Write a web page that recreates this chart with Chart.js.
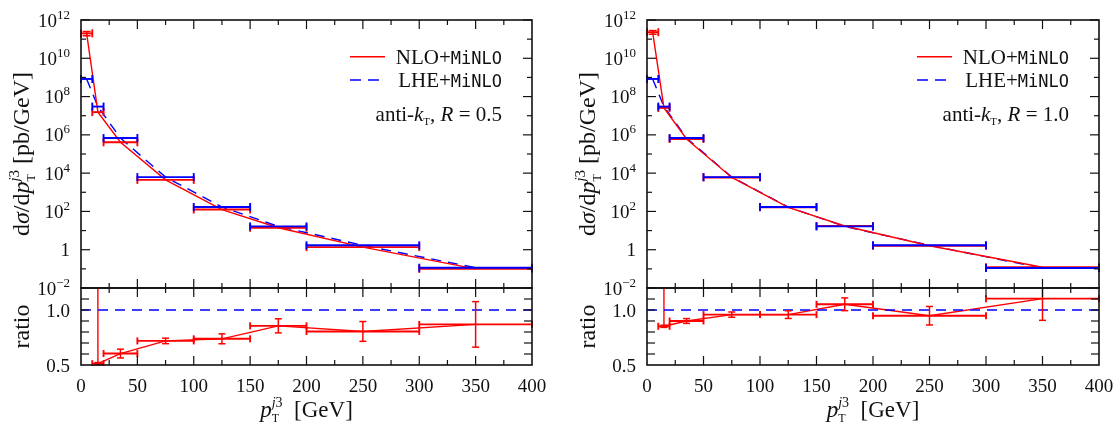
<!DOCTYPE html>
<html>
<head>
<meta charset="utf-8">
<script src="https://cdn.jsdelivr.net/npm/chart.js@4.4.0/dist/chart.umd.min.js"></script>
<style>
  html, body { margin: 0; padding: 0; background: #fff; }
  #wrap { position: relative; width: 1115px; height: 423px; overflow: hidden; background: #fff; }
  #wrap canvas { position: absolute; left: 0; top: 0; }
</style>
</head>
<body>
<div id="wrap">
  <canvas id="mainL" width="1115" height="423"></canvas>
  <canvas id="ratioL" width="1115" height="423"></canvas>
  <canvas id="mainR" width="1115" height="423"></canvas>
  <canvas id="ratioR" width="1115" height="423"></canvas>
</div>
<script>
// pT(j3) bins [GeV]
const binLo  = [0, 10, 20, 50, 100, 150, 200, 300];
const binHi  = [10, 20, 50, 100, 150, 200, 300, 400];
const binMid = [5, 15, 35, 75, 125, 175, 250, 350];

// anti-kT, R = 0.5  : dsigma/dpT [pb/GeV]
const lheR05    = [8.3e8, 3.0e7, 6.8e5, 6.2e3, 170, 16.5, 1.7, 0.115];
const nloR05    = [2.0e11, 1.54e7, 4.1e5, 4.46e3, 125, 14.1, 1.37, 0.10];
const nloErrR05 = [5.0e10, 0, 0, 0, 0, 0, 0, 0];
const ratioR05    = [241, 0.512, 0.604, 0.719, 0.738, 0.856, 0.805, 0.869];
const ratioErrR05 = [0, 0.01, 0.04, 0.025, 0.045, 0.064, 0.09, 0.207];

// anti-kT, R = 1.0
const lheR10    = [8.3e8, 3.0e7, 6.8e5, 6.2e3, 170, 16.5, 1.7, 0.11];
const nloR10    = [2.3e11, 2.56e7, 6.1e5, 5.94e3, 163, 17.4, 1.61, 0.121];
const nloErrR10 = [5.0e10, 0, 0, 0, 0, 0, 0, 0];
const ratioR10    = [277, 0.852, 0.90, 0.958, 0.958, 1.052, 0.948, 1.103];
const ratioErrR10 = [0, 0.01, 0.022, 0.024, 0.035, 0.058, 0.084, 0.197];

// axis tick labels
const xTickLabels   = ['0', '50', '100', '150', '200', '250', '300', '350', '400'];
const mainExponents = [12, 10, 8, 6, 4, 2, 0, -2];
const ratioTickLabels = ['0.5', '1.0'];

const RED = '#ff0000', BLUE = '#0000ff', INK = '#111';
const SERIF = '"Liberation Serif", "DejaVu Serif", serif';
const MONO = '"DejaVu Sans Mono", "Liberation Mono", monospace';
const f = (size, italic) => (italic ? 'italic ' : '') + size + 'px ' + SERIF;

// --- rich text: a sequence of runs; a run may stack a subscript and a superscript
function seqWidth(ctx, seq) {
  let w = 0;
  for (const it of seq) {
    if (it.stack) w += Math.max(...it.stack.map(s => seqWidth(ctx, s)));
    else { ctx.font = it.f; w += ctx.measureText(it.t).width; }
  }
  return w;
}
function drawSeq(ctx, seq, x, y) {
  for (const it of seq) {
    if (it.stack) {
      const w = Math.max(...it.stack.map(s => seqWidth(ctx, s)));
      it.stack.forEach(s => drawSeq(ctx, s, x, y));
      x += w;
    } else {
      ctx.font = it.f;
      ctx.fillText(it.t, x, y + (it.dy || 0));
      x += ctx.measureText(it.t).width;
    }
  }
}
const ptSub = (sz) => ({ stack: [
  [{ t: 'T', f: f(Math.round(sz * 0.5)), dy: Math.round(sz * 0.23) }],
  [{ t: 'j', f: f(Math.round(sz * 0.62), true), dy: -Math.round(sz * 0.42) },
   { t: '3', f: f(Math.round(sz * 0.62)), dy: -Math.round(sz * 0.42) }]
]});
const xTitle = [{ t: 'p', f: f(23, true) }, ptSub(23), { t: '  [GeV]', f: f(23) }];
const yTitle = [{ t: 'd', f: f(24) }, { t: 'σ', f: f(24, true) }, { t: '/d', f: f(24) },
                { t: 'p', f: f(24, true) }, ptSub(24), { t: ' [pb/GeV]', f: f(24) }];
const legNLO = [{ t: 'NLO+', f: f(21) }, { t: 'MiNLO', f: '17px ' + MONO }];
const legLHE = [{ t: 'LHE+', f: f(21) }, { t: 'MiNLO', f: '17px ' + MONO }];
const jetLabel = (r) => [{ t: 'anti-', f: f(21) }, { t: 'k', f: f(21, true) }, { t: 'T', f: f(11), dy: 4 },
                         { t: ', ', f: f(21) }, { t: 'R', f: f(21, true) }, { t: ' = ' + r, f: f(21) }];

function line(ctx, x0, y0, x1, y1) { ctx.beginPath(); ctx.moveTo(x0, y0); ctx.lineTo(x1, y1); ctx.stroke(); }

// frame with inward ticks on all four sides
function frame(chart, yTicks) {
  const { ctx, chartArea: a, scales: { x, y } } = chart;
  ctx.save();
  ctx.strokeStyle = INK; ctx.lineWidth = 1.2;
  for (let v = 0; v <= 400; v += 25) {
    const px = x.getPixelForValue(v), L = v % 50 === 0 ? 9 : 5;
    if (v > 0 && v < 400) { line(ctx, px, a.bottom, px, a.bottom - L); line(ctx, px, a.top, px, a.top + L); }
  }
  for (const t of yTicks) {
    const py = y.getPixelForValue(t.v);
    line(ctx, a.left, py, a.left + t.len, py);
    line(ctx, a.right, py, a.right - t.len, py);
  }
  ctx.lineWidth = 1.6;
  ctx.strokeRect(a.left, a.top, a.right - a.left, a.bottom - a.top);
  ctx.restore();
}

// histogram bins with end caps, plus vertical error bars
function bins(chart, vals, errs, color, cap) {
  const { ctx, chartArea: a, scales: { x, y } } = chart;
  ctx.save();
  ctx.beginPath(); ctx.rect(a.left - 2, a.top - 1, a.right - a.left + 4, a.bottom - a.top + 2); ctx.clip();
  ctx.strokeStyle = color; ctx.lineWidth = 1.9;
  vals.forEach((v, i) => {
    const py = y.getPixelForValue(v);
    const x0 = x.getPixelForValue(binLo[i]), x1 = x.getPixelForValue(binHi[i]);
    line(ctx, x0, py, x1, py);
    line(ctx, x0, py - cap, x0, py + cap);
    line(ctx, x1, py - cap, x1, py + cap);
    if (errs && errs[i]) {
      const xm = x.getPixelForValue(binMid[i]);
      const ylo = y.getPixelForValue(v - errs[i]), yhi = y.getPixelForValue(v + errs[i]);
      ctx.lineWidth = 1.5;
      line(ctx, xm, ylo, xm, yhi);
      line(ctx, xm - cap, ylo, xm + cap, ylo);
      line(ctx, xm - cap, yhi, xm + cap, yhi);
      ctx.lineWidth = 1.9;
    }
  });
  ctx.restore();
}

function makeChart(id, area, yCfg, datasets, draw) {
  return new Chart(document.getElementById(id), {
    type: 'line',
    data: { datasets },
    options: {
      responsive: false, animation: false, events: [],
      layout: { autoPadding: false, padding: { left: area.l, top: area.t, right: 1115 - area.r, bottom: 423 - area.b } },
      plugins: { legend: { display: false }, tooltip: { enabled: false } },
      elements: { point: { radius: 0 }, line: { tension: 0 } },
      scales: {
        x: { type: 'linear', min: 0, max: 400, display: false },
        y: Object.assign({ display: false }, yCfg)
      }
    },
    plugins: [{ id: 'deco', afterDatasetsDraw: c => draw(c) }]
  });
}

const pts = (vals) => binMid.map((m, i) => ({ x: m, y: vals[i] }));

function panel(suffix, left, right, nlo, nloErr, lhe, ratio, ratioErr, rLabel) {
  const mainArea  = { l: left, r: right, t: 20, b: 288 };
  const ratioArea = { l: left, r: right, t: 288, b: 365 };

  makeChart('main' + suffix, mainArea, { type: 'logarithmic', min: 1e-2, max: 1e12 }, [
    { data: pts(nlo), borderColor: RED, borderWidth: 1.4 },
    { data: pts(lhe), borderColor: BLUE, borderWidth: 1.4, borderDash: [10, 7] }
  ], (c) => {
    const { ctx, chartArea: a, scales: { y } } = c;
    bins(c, nlo, nloErr, RED, 4);
    bins(c, lhe, null, BLUE, 4);
    const yt = [];
    for (let e = 12; e >= -2; e--) yt.push({ v: Math.pow(10, e), len: e % 2 === 0 ? 9 : 5 });
    frame(c, yt);
    ctx.save();
    ctx.fillStyle = INK; ctx.textBaseline = 'alphabetic';
    // decade labels
    mainExponents.forEach(e => {
      const py = y.getPixelForValue(Math.pow(10, e));
      const seq = e === 0 ? [{ t: '1', f: f(19) }]
        : [{ t: '10', f: f(19) }, { t: e < 0 ? '\u2212' + (-e) : String(e), f: f(13), dy: -8 }];
      drawSeq(ctx, seq, a.left - 11 - seqWidth(ctx, seq), py + 6.5);
    });
    // vertical title
    ctx.save();
    ctx.translate(a.left - 52, (a.top + a.bottom) / 2);
    ctx.rotate(-Math.PI / 2);
    drawSeq(ctx, yTitle, -seqWidth(ctx, yTitle) / 2, 0);
    ctx.restore();
    // key
    const kx = a.right - 30;
    ctx.strokeStyle = RED; ctx.lineWidth = 1.4;
    line(ctx, a.right - 182, 56.7, a.right - 147, 56.7);
    ctx.strokeStyle = BLUE; ctx.setLineDash([11, 7]);
    line(ctx, a.right - 182, 80, a.right - 147, 80);
    ctx.setLineDash([]);
    drawSeq(ctx, legNLO, kx - seqWidth(ctx, legNLO), 63.5);
    drawSeq(ctx, legLHE, kx - seqWidth(ctx, legLHE), 86.7);
    const jl = jetLabel(rLabel);
    drawSeq(ctx, jl, kx - seqWidth(ctx, jl), 121);
    ctx.restore();
  });

  makeChart('ratio' + suffix, ratioArea, { type: 'linear', min: 0.5, max: 1.2 }, [
    { data: [{ x: 0, y: 1 }, { x: 400, y: 1 }], borderColor: BLUE, borderWidth: 1.4, borderDash: [10, 7] },
    { data: pts(ratio), borderColor: RED, borderWidth: 1.4 }
  ], (c) => {
    const { ctx, chartArea: a, scales: { x, y } } = c;
    bins(c, ratio, ratioErr, RED, 3.5);
    const yt = [];
    for (let k = 6; k <= 11; k++) yt.push({ v: k / 10, len: 8 });
    frame(c, yt);
    ctx.save();
    ctx.fillStyle = INK; ctx.textBaseline = 'alphabetic';
    ratioTickLabels.forEach(s => {
      const py = y.getPixelForValue(parseFloat(s));
      const seq = [{ t: s, f: f(19) }];
      drawSeq(ctx, seq, a.left - 11 - seqWidth(ctx, seq), py + 6.5);
    });
    xTickLabels.forEach(s => {
      const px = x.getPixelForValue(parseFloat(s));
      const seq = [{ t: s, f: f(19) }];
      drawSeq(ctx, seq, px - seqWidth(ctx, seq) / 2, 392);
    });
    drawSeq(ctx, xTitle, (a.left + a.right) / 2 - seqWidth(ctx, xTitle) / 2, 417);
    ctx.save();
    ctx.translate(a.left - 52, (a.top + a.bottom) / 2);
    ctx.rotate(-Math.PI / 2);
    const rt = [{ t: 'ratio', f: f(24) }];
    drawSeq(ctx, rt, -seqWidth(ctx, rt) / 2, 0);
    ctx.restore();
    ctx.restore();
  });
}

panel('L', 81, 532, nloR05, nloErrR05, lheR05, ratioR05, ratioErrR05, '0.5');
panel('R', 647, 1099, nloR10, nloErrR10, lheR10, ratioR10, ratioErrR10, '1.0');
</script>
</body>
</html>
